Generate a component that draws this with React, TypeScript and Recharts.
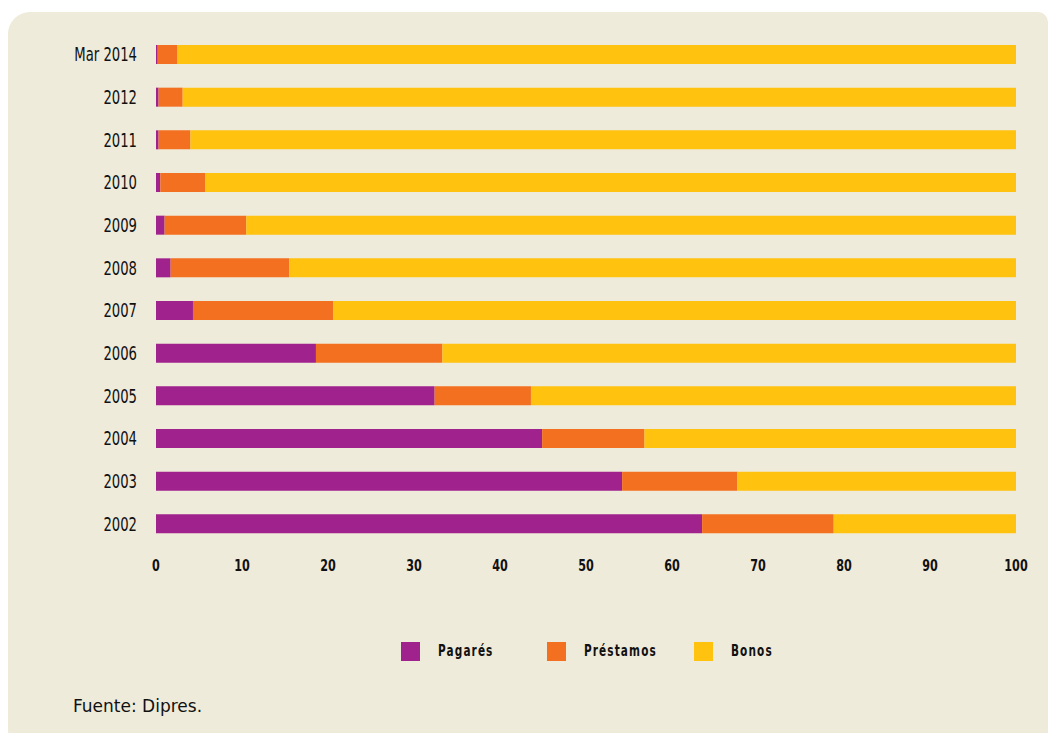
import React from "react";
import { BarChart, Bar, XAxis, YAxis } from "recharts";

const years = ["Mar 2014", "2012", "2011", "2010", "2009", "2008", "2007", "2006", "2005", "2004", "2003", "2002"];
const pagares = [0.2, 0.3, 0.3, 0.5, 1.0, 1.7, 4.3, 18.6, 32.4, 44.9, 54.2, 63.5];
const prestamos = [2.3, 2.8, 3.7, 5.2, 9.5, 13.8, 16.3, 14.7, 11.2, 11.9, 13.4, 15.3];
const bonos = [97.5, 96.9, 96.0, 94.3, 89.5, 84.5, 79.4, 66.7, 56.4, 43.2, 32.4, 21.2];
const xTicks = [0, 10, 20, 30, 40, 50, 60, 70, 80, 90, 100];

const series = [
  { key: "pagares", name: "Pagarés", color: "#a0228c" },
  { key: "prestamos", name: "Préstamos", color: "#f37021" },
  { key: "bonos", name: "Bonos", color: "#ffc20e" },
];

const data = years.map((year, i) => ({
  year,
  pagares: pagares[i],
  prestamos: prestamos[i],
  bonos: bonos[i],
}));

const font = '"DejaVu Sans", sans-serif';

// condensed look: squeeze DejaVu horizontally
function YTick({ x, y, payload }: any) {
  return (
    <g transform={`translate(${x},${y})`}>
      <text transform="scale(0.66,1)" textAnchor="end" dy={7} fill="#111" fontSize={20} fontFamily={font}>
        {payload.value}
      </text>
    </g>
  );
}

function XTick({ x, y, payload }: any) {
  return (
    <g transform={`translate(${x},${y})`}>
      <text transform="scale(0.7,1)" textAnchor="middle" dy={6} fill="#111" fontSize={16} fontWeight={700} fontFamily={font}>
        {payload.value}
      </text>
    </g>
  );
}

const legendX = [401, 547, 694];

export default function App() {
  return (
    <div style={{ position: "absolute", left: 0, top: 0, width: 1052, height: 733, background: "#fff", overflow: "hidden" }}>
      <div
        style={{
          position: "absolute",
          left: 8,
          top: 12,
          width: 1040,
          height: 740,
          background: "#efebda",
          borderRadius: "22px 10px 0 22px",
        }}
      />
      <div style={{ position: "absolute", left: 0, top: 0 }}>
        <BarChart
          width={1052}
          height={585}
          data={data}
          layout="vertical"
          margin={{ top: 33, right: 36, left: 8, bottom: 0 }}
          barCategoryGap={0}
        >
          <XAxis
            type="number"
            domain={[0, 100]}
            ticks={xTicks}
            axisLine={false}
            tickLine={false}
            tickSize={0}
            tickMargin={20}
            height={40}
            interval={0}
            tick={<XTick />}
          />
          <YAxis
            type="category"
            dataKey="year"
            width={148}
            axisLine={false}
            tickLine={false}
            tickSize={0}
            tickMargin={19}
            interval={0}
            tick={<YTick />}
          />
          {series.map((s) => (
            <Bar
              key={s.key}
              dataKey={s.key}
              name={s.name}
              stackId="a"
              fill={s.color}
              barSize={19}
              isAnimationActive={false}
            />
          ))}
        </BarChart>
      </div>
      {series.map((s, i) => (
        <div key={s.key} style={{ position: "absolute", top: 642, left: legendX[i], height: 19 }}>
          <div style={{ position: "absolute", left: 0, top: 0, width: 19, height: 19, background: s.color }} />
          <span
            style={{
              position: "absolute",
              left: 37,
              top: -1,
              fontFamily: font,
              fontWeight: 700,
              fontSize: 15,
              lineHeight: "20px",
              letterSpacing: 1.6,
              color: "#111",
              whiteSpace: "nowrap",
              transform: "scaleX(0.7)",
              transformOrigin: "left center",
            }}
          >
            {s.name}
          </span>
        </div>
      ))}
      <div
        style={{
          position: "absolute",
          left: 73,
          top: 695,
          fontFamily: font,
          fontSize: 17,
          lineHeight: "22px",
          color: "#111",
        }}
      >
        Fuente: Dipres.
      </div>
    </div>
  );
}
